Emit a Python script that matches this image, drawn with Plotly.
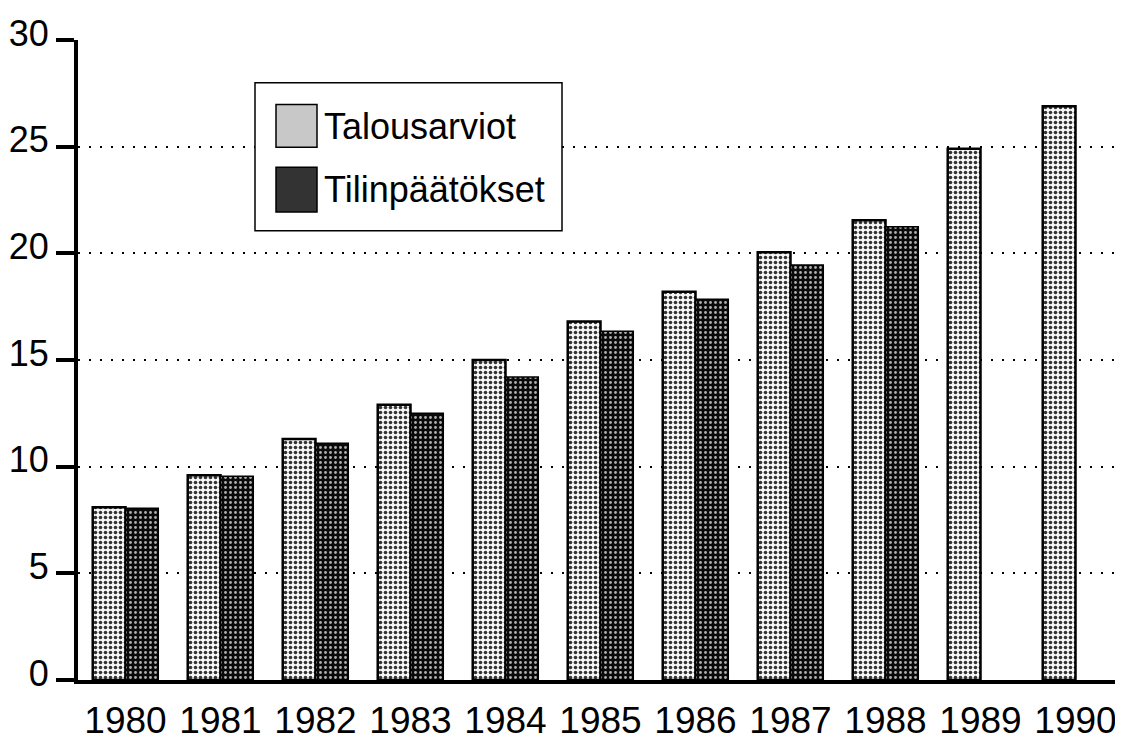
import plotly.graph_objects as go

years = ["1980", "1981", "1982", "1983", "1984", "1985", "1986", "1987", "1988", "1989", "1990"]
talousarviot = [8.1, 9.6, 11.3, 12.9, 15.0, 16.8, 18.2, 20.05, 21.55, 24.9, 26.9]
tilinpaatokset = [8.05, 9.55, 11.1, 12.5, 14.2, 16.35, 17.85, 19.45, 21.25, None, None]
y_ticks = [0, 5, 10, 15, 20, 25, 30]
series_names = ["Talousarviot", "Tilinpäätökset"]

FONT = "Liberation Sans, Arial, Helvetica, sans-serif"

fig = go.Figure()
fig.add_trace(go.Bar(
    x=years, y=talousarviot, name=series_names[0],
    marker=dict(color="#d0d0d0", line=dict(color="black", width=2.5),
                pattern=dict(shape=".", fillmode="replace", bgcolor="#f6f6f6",
                             fgcolor="#333333", size=5, solidity=0.4)),
    showlegend=False,
))
fig.add_trace(go.Bar(
    x=years, y=tilinpaatokset, name=series_names[1],
    marker=dict(color="#2a2a2a", line=dict(color="black", width=1.5),
                pattern=dict(shape=".", fillmode="replace", bgcolor="#0a0a0a",
                             fgcolor="#b0b0b0", size=5, solidity=0.25)),
    showlegend=False,
))

# page offset of 8px (body margin); plot area in window pixels: x 78..1123, y 40..684
OFF = 8
L, R, T, B = 78 - OFF, 1123 - OFF, 40 - OFF, 684 - OFF
W, H = 1123 - OFF, 741 - OFF

def px(xp):
    return (xp - 78) / (1123 - 78)

def py(yp):
    return (684 - yp) / (684 - 40)

shapes = [
    dict(type="rect", xref="paper", yref="paper", x0=px(255), x1=px(562), y0=py(232), y1=py(83),
         fillcolor="white", line=dict(color="black", width=1.5), layer="above"),
    dict(type="rect", xref="paper", yref="paper", x0=px(276), x1=px(317), y0=py(148), y1=py(105),
         fillcolor="#c8c8c8", line=dict(color="black", width=1.5), layer="above"),
    dict(type="rect", xref="paper", yref="paper", x0=px(276), x1=px(317), y0=py(213), y1=py(168),
         fillcolor="#333333", line=dict(color="black", width=1.5), layer="above"),
]
annotations = [
    dict(xref="paper", yref="paper", x=px(322), y=py(127), text=series_names[0], showarrow=False,
         xanchor="left", yanchor="middle", font=dict(size=36, color="black", family=FONT)),
    dict(xref="paper", yref="paper", x=px(322), y=py(190), text=series_names[1], showarrow=False,
         xanchor="left", yanchor="middle", font=dict(size=36, color="black", family=FONT)),
]

fig.update_layout(
    width=W, height=H,
    margin=dict(l=L, r=W - R, t=T, b=H - B, pad=0),
    paper_bgcolor="white", plot_bgcolor="white",
    barmode="group", bargap=0.31, bargroupgap=0,
    font=dict(family=FONT, size=36, color="black"),
    shapes=shapes, annotations=annotations,
    xaxis=dict(type="category", showline=True, linecolor="black", linewidth=4,
               ticks="", showgrid=False, tickfont=dict(size=37), ticklabelstandoff=5),
    yaxis=dict(range=[0, 30], tickvals=y_ticks, showline=True, linecolor="black", linewidth=4,
               ticks="outside", ticklen=18, tickwidth=4, tickcolor="black",
               showgrid=True, gridcolor="black", gridwidth=2, griddash="2px,9px",
               zeroline=False, tickfont=dict(size=36), ticklabelshift=-7),
)

fig.write_html("out.html")
